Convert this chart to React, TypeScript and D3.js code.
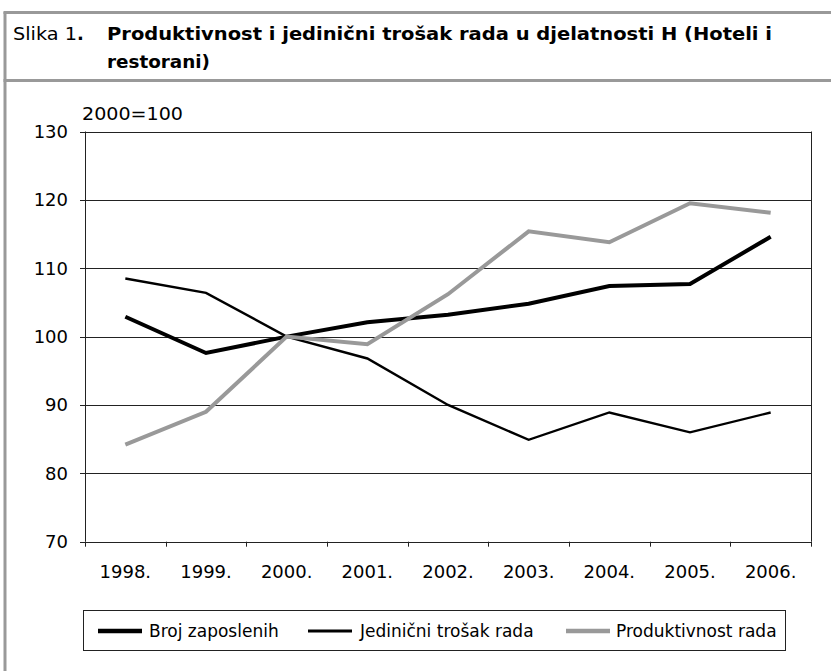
import React, { useEffect } from "react";
import * as d3 from "d3";

const years = ["1998.", "1999.", "2000.", "2001.", "2002.", "2003.", "2004.", "2005.", "2006."];
const brojZaposlenih = [102.9, 97.6, 100, 102.1, 103.2, 104.8, 107.4, 107.7, 114.6];
const jedinicniTrosak = [108.5, 106.4, 100, 96.8, 90.0, 84.9, 88.9, 86.0, 88.9];
const produktivnost = [84.2, 89.0, 100, 98.9, 106.2, 115.4, 113.8, 119.5, 118.1];
const yTicks = [70, 80, 90, 100, 110, 120, 130];
const seriesNames = ["Broj zaposlenih", "Jedinični trošak rada", "Produktivnost rada"];

const W = 831;
const H = 671;
const FONT = "'DejaVu Sans', 'Liberation Sans', Arial, sans-serif";

export default function App() {
  useEffect(() => {
    document.body.style.margin = "0";
  }, []);

  const left = 85;
  const right = 811;
  const top = 131.5;
  const bottom = 541.7;

  const x = d3.scaleBand<string>().domain(years).range([left, right]).padding(0);
  const y = d3.scaleLinear().domain([70, 130]).range([bottom, top]);
  const cx = (i: number) => (x(years[i]) as number) + x.bandwidth() / 2;
  const line = d3
    .line<number>()
    .x((_, i) => cx(i))
    .y((d) => y(d));

  const series = [
    { name: seriesNames[0], data: brojZaposlenih, color: "#000", width: 4 },
    { name: seriesNames[1], data: jedinicniTrosak, color: "#000", width: 2.4 },
    { name: seriesNames[2], data: produktivnost, color: "#999", width: 4 },
  ];

  const legendItems = [
    { lx: 98, tx: 149 },
    { lx: 308, tx: 360 },
    { lx: 566, tx: 616 },
  ];

  const boundaries = d3.range(years.length + 1).map((i) => left + i * x.bandwidth());

  return (
    <svg width={W} height={H} style={{ display: "block", background: "#fff" }} fontFamily={FONT}>
      {/* frame */}
      <line x1={5} y1={12} x2={5} y2={H} stroke="#999" strokeWidth={3} />
      <line x1={3.5} y1={12.5} x2={W} y2={12.5} stroke="#999" strokeWidth={3} />
      <line x1={3.5} y1={80.5} x2={W} y2={80.5} stroke="#999" strokeWidth={3} />

      {/* title */}
      <text x={13} y={40} fontSize={18} fill="#000">
        <tspan textLength={64} lengthAdjust="spacingAndGlyphs">Slika 1</tspan>
        <tspan fontWeight="bold">.</tspan>
      </text>
      <text x={107} y={40} fontSize={17} fontWeight="bold" fill="#000" textLength={665} lengthAdjust="spacingAndGlyphs">
        Produktivnost i jedinični trošak rada u djelatnosti H (Hoteli i
      </text>
      <text x={107} y={68} fontSize={17} fontWeight="bold" fill="#000" textLength={103} lengthAdjust="spacingAndGlyphs">
        restorani)
      </text>

      {/* gridlines */}
      {yTicks
        .filter((t) => t !== 70 && t !== 130)
        .map((t) => (
          <line key={t} x1={left} x2={right} y1={Math.round(y(t)) + 0.5} y2={Math.round(y(t)) + 0.5} stroke="#222" strokeWidth={1} />
        ))}
      {/* plot border top & right */}
      <line x1={left} x2={right} y1={Math.round(top) + 0.5} y2={Math.round(top) + 0.5} stroke="#222" strokeWidth={1} />
      <line x1={right + 0.5} x2={right + 0.5} y1={top} y2={bottom} stroke="#222" strokeWidth={1} />

      {/* axes */}
      <line x1={left + 0.5} x2={left + 0.5} y1={top} y2={bottom} stroke="#222" strokeWidth={1} />
      <line x1={left} x2={right + 1} y1={Math.round(bottom) + 0.5} y2={Math.round(bottom) + 0.5} stroke="#222" strokeWidth={1} />
      {yTicks.map((t) => (
        <g key={t}>
          <line x1={left - 5} x2={left} y1={Math.round(y(t)) + 0.5} y2={Math.round(y(t)) + 0.5} stroke="#222" />
          <text x={68} y={y(t) + 6.5} textAnchor="end" fontSize={18} fill="#000">
            {t}
          </text>
        </g>
      ))}
      {boundaries.map((b, i) => (
        <line key={i} x1={Math.round(b) + 0.5} x2={Math.round(b) + 0.5} y1={bottom} y2={bottom + 5} stroke="#222" />
      ))}
      {years.map((yr, i) => (
        <text key={yr} x={cx(i)} y={578} textAnchor="middle" fontSize={18} fill="#000">
          {yr}
        </text>
      ))}
      <text x={82} y={120} fontSize={18} fill="#000" textLength={101} lengthAdjust="spacingAndGlyphs">
        2000=100
      </text>

      {/* series */}
      {series.map((s) => (
        <path key={s.name} d={line(s.data) as string} fill="none" stroke={s.color} strokeWidth={s.width} strokeLinejoin="miter" />
      ))}

      {/* legend */}
      <rect x={83.5} y={610.5} width={702} height={40} fill="#fff" stroke="#222" strokeWidth={1} />
      {series.map((s, i) => (
        <g key={s.name}>
          <line x1={legendItems[i].lx} x2={legendItems[i].lx + 44} y1={631} y2={631} stroke={s.color} strokeWidth={s.width + 0.6} />
          <text x={legendItems[i].tx} y={637} fontSize={17} fill="#000">
            {s.name}
          </text>
        </g>
      ))}
    </svg>
  );
}
